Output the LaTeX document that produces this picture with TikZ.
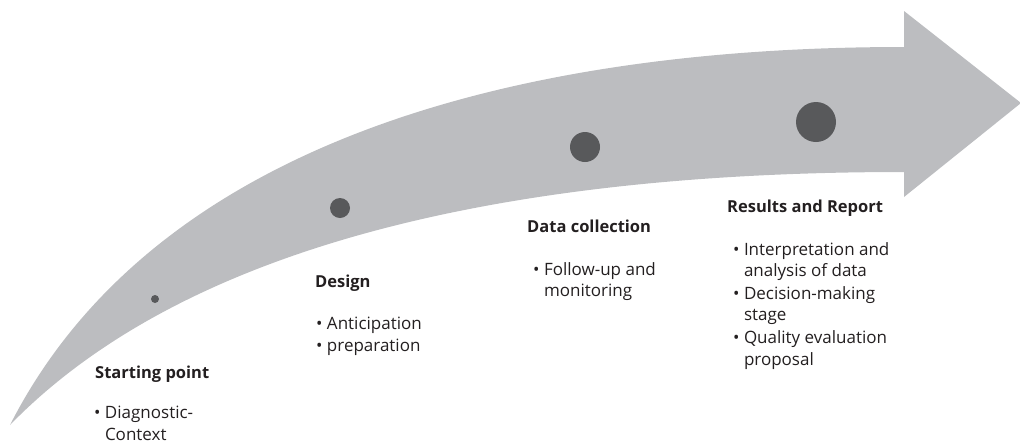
\documentclass[tikz,border=0pt]{standalone}
\usepackage{fontspec}
\setmainfont{Open Sans}
\usetikzlibrary{positioning}
\definecolor{arrowgray}{RGB}{188,189,192}
\definecolor{dotgray}{RGB}{88,89,91}
\definecolor{textgray}{RGB}{35,31,32}

\begin{document}
\begin{tikzpicture}[x=1pt,y=-1pt,
  title/.style={font=\fontsize{16.5}{21}\selectfont\bfseries, text=textgray, inner sep=0pt, anchor=base west},
  items/.style={font=\fontsize{17}{21.5}\selectfont, text=textgray, inner sep=0pt, align=left},
  stage/.style={circle, fill=dotgray, inner sep=0pt}]
\useasboundingbox (0,0) rectangle (1020,445);

%Curved arrow
\fill[arrowgray] (10,425) .. controls (150,150) and (500,47) .. (904,47)
  -- (904,11) -- (1021,103) -- (904,197) -- (904,172)
  .. controls (550,172) and (200,230) .. (10,425) -- cycle;

%Stage dots
\node[stage, minimum size=8pt]  (dot1) at (155,299) {};
\node[stage, minimum size=20pt] (dot2) at (340,208) {};
\node[stage, minimum size=30pt] (dot3) at (585,147) {};
\node[stage, minimum size=40pt] (dot4) at (816,122) {};

%Labels
\node[title] (start) at (95,378) {Starting point};
\node[items, below=28pt of start.base west, anchor=north west, xshift=-1pt] (startlist)
  {\textbullet~Diagnostic-\\\phantom{\textbullet~}Context};

\node[title] (design) at (315,287) {Design};
\node[items, below=30pt of design.base west, anchor=north west, xshift=1pt] (designlist)
  {\textbullet~Anticipation\\\textbullet~preparation};

\node[title] (data) at (527,232) {Data collection};
\node[items, below=30pt of data.base west, anchor=north west, xshift=6pt] (datalist)
  {\textbullet~Follow-up and\\\phantom{\textbullet~}monitoring};

\node[title] (results) at (727,212) {Results and Report};
\node[items, below=30pt of results.base west, anchor=north west, xshift=6pt] (resultslist)
  {\textbullet~Interpretation and\\\phantom{\textbullet~}analysis of data\\[1pt]
   \textbullet~Decision-making\\\phantom{\textbullet~}stage\\[1.5pt]
   \textbullet~Quality evaluation\\\phantom{\textbullet~}proposal};
\end{tikzpicture}
\end{document}
